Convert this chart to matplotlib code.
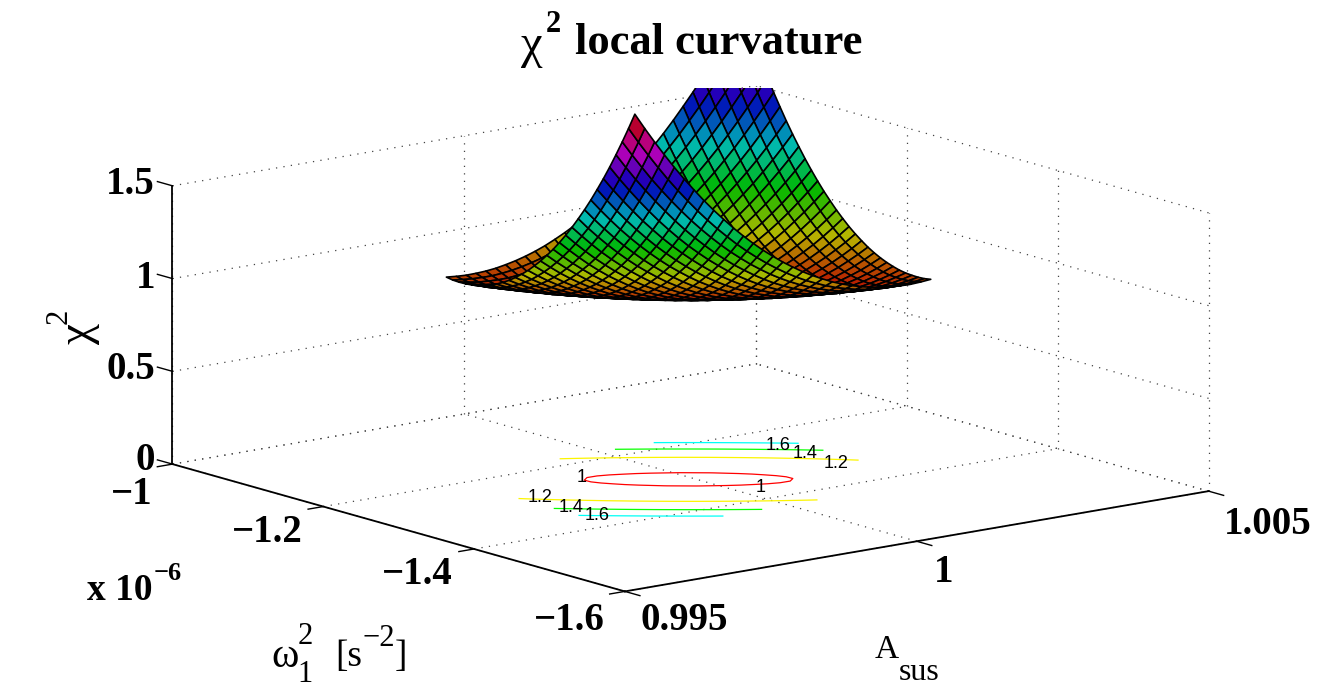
import numpy as np
import matplotlib
matplotlib.use("Agg")
import matplotlib.pyplot as plt
from matplotlib.colors import ListedColormap, Normalize
from matplotlib.transforms import Bbox

W, H = 1334, 688

# axis ticks
x_ticks = [0.995, 1.0, 1.005]
x_labels = ["0.995", "1", "1.005"]
y_ticks = [-1.0, -1.2, -1.4, -1.6]
y_labels = ["\u22121", "\u22121.2", "\u22121.4", "\u22121.6"]
z_ticks = [0, 0.5, 1, 1.5]
z_labels = ["0", "0.5", "1", "1.5"]

# surface grid range (31 x 31 nodes)
x_nodes = np.linspace(0.99738, 1.00245, 31)
y_nodes = np.linspace(-1.429, -1.179, 31)

# chi2 read row by row, from the front edge up to the middle row
chi2_half = np.array([
 [2.248,2.162,2.080,2.001,1.925,1.853,1.785,1.719,1.657,1.599,1.543,1.491,1.442,1.396,1.354,1.314,1.278,1.244,1.214,1.187,1.162,1.141,1.123,1.108,1.096,1.086,1.080,1.077,1.076,1.079,1.084],
 [2.162,2.079,2.000,1.924,1.851,1.782,1.717,1.654,1.595,1.539,1.487,1.437,1.391,1.348,1.308,1.271,1.237,1.206,1.178,1.154,1.132,1.113,1.098,1.085,1.075,1.068,1.064,1.064,1.066,1.071,1.078],
 [2.080,2.000,1.924,1.850,1.781,1.715,1.652,1.592,1.536,1.483,1.433,1.386,1.343,1.302,1.265,1.230,1.199,1.171,1.146,1.124,1.105,1.088,1.075,1.065,1.058,1.053,1.052,1.054,1.058,1.066,1.076],
 [2.001,1.924,1.850,1.781,1.714,1.651,1.590,1.533,1.480,1.430,1.382,1.338,1.297,1.260,1.225,1.193,1.164,1.139,1.116,1.097,1.080,1.066,1.056,1.048,1.043,1.041,1.043,1.047,1.054,1.064,1.077],
 [1.925,1.851,1.781,1.714,1.650,1.589,1.532,1.478,1.427,1.380,1.335,1.294,1.255,1.220,1.188,1.159,1.133,1.110,1.090,1.073,1.059,1.047,1.039,1.034,1.032,1.032,1.036,1.043,1.052,1.065,1.080],
 [1.853,1.782,1.715,1.651,1.589,1.532,1.477,1.426,1.378,1.333,1.291,1.252,1.216,1.184,1.154,1.128,1.104,1.084,1.066,1.052,1.040,1.031,1.026,1.023,1.023,1.026,1.032,1.041,1.053,1.068,1.086],
 [1.785,1.717,1.652,1.590,1.532,1.477,1.425,1.377,1.331,1.289,1.250,1.214,1.181,1.151,1.124,1.100,1.079,1.061,1.045,1.033,1.024,1.018,1.015,1.015,1.018,1.023,1.032,1.043,1.058,1.075,1.096],
 [1.719,1.654,1.592,1.533,1.478,1.426,1.377,1.331,1.288,1.249,1.212,1.178,1.148,1.120,1.096,1.074,1.056,1.040,1.028,1.018,1.012,1.008,1.007,1.010,1.015,1.023,1.034,1.048,1.065,1.085,1.108],
 [1.657,1.595,1.536,1.480,1.427,1.378,1.331,1.288,1.248,1.211,1.177,1.146,1.118,1.093,1.071,1.052,1.036,1.023,1.013,1.006,1.002,1.001,1.003,1.007,1.015,1.026,1.039,1.056,1.075,1.098,1.123],
 [1.599,1.539,1.483,1.430,1.380,1.333,1.289,1.249,1.211,1.176,1.145,1.117,1.091,1.069,1.049,1.033,1.020,1.009,1.002,0.997,0.995,0.997,1.001,1.008,1.018,1.031,1.047,1.066,1.088,1.113,1.141],
 [1.543,1.487,1.433,1.382,1.335,1.291,1.250,1.212,1.177,1.145,1.116,1.090,1.068,1.048,1.031,1.017,1.006,0.998,0.993,0.991,0.992,0.995,1.002,1.012,1.024,1.040,1.059,1.080,1.105,1.132,1.162],
 [1.491,1.437,1.386,1.338,1.294,1.252,1.214,1.178,1.146,1.117,1.090,1.067,1.047,1.029,1.015,1.004,0.995,0.990,0.987,0.987,0.991,0.997,1.006,1.018,1.033,1.052,1.073,1.097,1.124,1.154,1.187],
 [1.442,1.391,1.343,1.297,1.255,1.216,1.181,1.148,1.118,1.091,1.068,1.047,1.029,1.014,1.002,0.993,0.987,0.984,0.984,0.987,0.993,1.002,1.013,1.028,1.045,1.066,1.090,1.116,1.146,1.178,1.214],
 [1.396,1.348,1.302,1.260,1.220,1.184,1.151,1.120,1.093,1.069,1.048,1.029,1.014,1.002,0.992,0.986,0.982,0.982,0.984,0.990,0.998,1.009,1.023,1.040,1.061,1.084,1.110,1.139,1.171,1.206,1.244],
 [1.354,1.308,1.265,1.225,1.188,1.154,1.124,1.096,1.071,1.049,1.031,1.015,1.002,0.992,0.985,0.982,0.981,0.982,0.987,0.995,1.006,1.020,1.036,1.056,1.079,1.104,1.133,1.164,1.199,1.237,1.278],
 [1.314,1.271,1.230,1.193,1.159,1.128,1.100,1.074,1.052,1.033,1.017,1.004,0.993,0.986,0.981,0.980,0.981,0.986,0.993,1.004,1.017,1.033,1.052,1.074,1.100,1.128,1.159,1.193,1.230,1.271,1.314],
])
# the back half of the bowl mirrors the front half through its centre
chi2 = np.vstack([chi2_half, chi2_half[-2::-1, ::-1]])

contour_levels = [1.0, 1.2, 1.4, 1.6]
contour_texts = [("1.6", 778, 445), ("1.4", 805, 453), ("1.2", 836, 463), ("1", 582, 478),
                 ("1", 761, 487), ("1.2", 540, 497), ("1.4", 571, 507), ("1.6", 597, 515)]

fig = plt.figure(figsize=(W / 100, H / 100), dpi=100)
S = 1400
ax = fig.add_axes([-28.4 / W, -369.4 / H, S / W, S / H], projection="3d",
                  proj_type="ortho", computed_zorder=False)
ax.set_box_aspect((740, 734, 285), zoom=0.75)
ax.view_init(elev=12.7, azim=-128)
ax.set_xlim(0.995, 1.005)
ax.set_ylim(-1.6, -1.0)
ax.set_zlim(0, 1.5)
ax.set_axis_off()

x0, x1 = 0.995, 1.005
y0, y1 = -1.6, -1.0
z1 = 1.5
dots = dict(color="#444444", lw=0.9, ls=(0, (1, 5)), zorder=1)

# dotted grid on floor and the two back walls
for x in x_ticks:
    ax.plot([x, x], [y0, y1], [0, 0], **dots)
    ax.plot([x, x], [y1, y1], [0, z1], **dots)
for y in y_ticks:
    ax.plot([x0, x1], [y, y], [0, 0], **dots)
    ax.plot([x1, x1], [y, y], [0, z1], **dots)
for z in z_ticks:
    ax.plot([x0, x1], [y1, y1], [z, z], **dots)
    ax.plot([x1, x1], [y0, y1], [z, z], **dots)

# solid axes
solid = dict(color="k", lw=1.3, zorder=4)
ax.plot([x0, x1], [y0, y0], [0, 0], **solid)
ax.plot([x0, x0], [y0, y1], [0, 0], **solid)
ax.plot([x0, x0], [y1, y1], [0, z1], **solid)
thin = dict(color="k", lw=1.0, zorder=4)
for y in y_ticks:
    ax.plot([x0, x0 - 0.00026], [y, y], [0, 0], **thin)
for x in x_ticks:
    ax.plot([x, x], [y0, y0 - 0.02], [0, 0], **thin)
for z in z_ticks:
    ax.plot([x0, x0], [y1, y1 + 0.02], [z, z], **thin)

norm = Normalize(1.0, 2.2)
X, Y = np.meshgrid(x_nodes, y_nodes)
ax.contour(X, Y, chi2, levels=contour_levels, zdir="z", offset=0, cmap="hsv", norm=norm,
           linewidths=0.9, zorder=2)

# the dense black mesh of the original darkens the faces, so dim the colormap a bit
dark_hsv = ListedColormap(plt.get_cmap("hsv")(np.arange(256))[:, :3] * 0.72)
surf = ax.plot_surface(X, Y, chi2, rstride=1, cstride=1, cmap=dark_hsv, norm=norm, shade=False,
                       edgecolor="k", linewidth=1.2, zorder=3)
surf.set_clip_path(None)
surf.set_clip_box(Bbox([[0, 0], [W, H - 88]]))


def px_text(x, y, s, size=28, weight="bold", family="Liberation Serif", ha="center", va="center", **kw):
    fig.text(x / W, 1 - y / H, s, fontsize=size, fontweight=weight, family=family, ha=ha, va=va, **kw)


# contour labels
for s, px, py in contour_texts:
    px_text(px, py, s, size=13, weight="normal", family="Liberation Sans")

# tick labels
for s, py in zip(z_labels, [460, 370, 279, 185]):
    px_text(155, py, s, ha="right")
for s, (px, py) in zip(y_labels, [(153, 495), (303, 533), (453, 575), (605, 620)]):
    px_text(px, py, s, ha="right")
for s, (px, py) in zip(x_labels, [(640, 620), (934, 572), (1224, 525)]):
    px_text(px, py, s, ha="left")

# title
px_text(521, 46, "\u03c7", size=35, weight="normal", ha="left")
px_text(546, 25, "2", size=22, ha="left")
px_text(575, 43, "local curvature", size=32, ha="left")

# z label
px_text(79, 333, "\u03c7", size=34, weight="normal", rotation=90)
px_text(59, 316, "2", size=22, weight="normal", rotation=90)

# x 10^-6
px_text(87, 591, "x 10", size=27, ha="left")
px_text(154, 573, "\u22126", size=19, ha="left")

# omega label
px_text(285, 657, "\u03c9", size=30, weight="normal")
px_text(305, 637, "2", size=22, weight="normal")
px_text(305, 675, "1", size=22, weight="normal")
px_text(335, 657, "[s", size=27, weight="normal", ha="left")
px_text(362, 638, "\u22122", size=22, weight="normal", ha="left")
px_text(395, 657, "]", size=27, weight="normal", ha="left")

# A_sus label
px_text(875, 650, "A", size=24, weight="normal", ha="left")
px_text(899, 672, "sus", size=23, weight="normal", ha="left")

fig.savefig("out.png", dpi=100)
